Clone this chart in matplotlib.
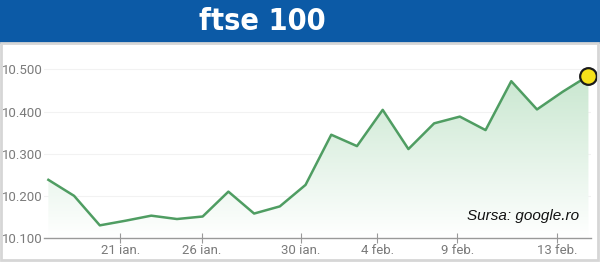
import numpy as np
import matplotlib.pyplot as plt
from matplotlib.patches import Rectangle
from matplotlib.colors import LinearSegmentedColormap

# valori ftse 100
valori = [10238, 10200, 10130, 10141, 10153, 10145, 10151, 10210, 10158, 10175,
          10226, 10345, 10318, 10404, 10311, 10372, 10388, 10356, 10472, 10405,
          10447, 10485]
etichete_x = ['21 ian.', '26 ian.', '30 ian.', '4 feb.', '9 feb.', '13 feb.']
pozitii_x = [2.8, 5.98, 9.83, 12.79, 15.9, 19.77]
etichete_y = ['10.100', '10.200', '10.300', '10.400', '10.500']
niveluri_y = [10100, 10200, 10300, 10400, 10500]
titlu = 'ftse 100'
sursa = 'Sursa: google.ro'

x = np.arange(len(valori))
y = np.array(valori)

fig = plt.figure(figsize=(6, 2.62), dpi=100)
fig.patch.set_facecolor('white')

# banda albastra cu titlul
fig.patches.append(Rectangle((0, 1 - 44 / 262), 1, 44 / 262, transform=fig.transFigure,
                             facecolor='#0c5aa6', edgecolor='none', zorder=0))
fig.text(0.438, 1 - 21 / 262, titlu, color='white', fontsize=22, fontweight='bold',
         fontstretch='condensed', family='DejaVu Sans', ha='center', va='center')

# chenar gri
fig.patches.append(Rectangle((0.002, 0.006), 0.994, 0.83, transform=fig.transFigure,
                             facecolor='none', edgecolor='#d6d6d6', linewidth=2, zorder=0))

ax = fig.add_axes([44 / 600, 1 - 238 / 262, (591 - 44) / 600, (238 - 50) / 262])
ax.set_xlim(-0.17, 21.1)
ax.set_ylim(10100, 10546)

# gradient verde sub linie
grad = np.linspace(0, 1, 256).reshape(-1, 1)
cmap = LinearSegmentedColormap.from_list('g', ['#ffffff', '#c9e7d0'])
img = ax.imshow(grad, cmap=cmap, aspect='auto',
                extent=[x[0], x[-1], 10100, y.max()], origin='lower', zorder=1)
poly = ax.fill_between(x, y, 10100, facecolor='none', edgecolor='none')
img.set_clip_path(poly.get_paths()[0], transform=ax.transData)

ax.plot(x, y, color='#4f9d62', linewidth=1.8, zorder=3)
ax.plot(x[-1], y[-1], 'o', markersize=12, markerfacecolor='#f7e21a',
        markeredgecolor='#1a1a1a', markeredgewidth=1.6, zorder=4, clip_on=False)

for n in niveluri_y[1:]:
    ax.axhline(n, color='#f2f2f2', linewidth=0.8, zorder=0)

ax.set_yticks(niveluri_y)
ax.set_yticklabels(etichete_y)
ax.set_xticks(pozitii_x)
ax.set_xticklabels(etichete_x)
ax.tick_params(axis='y', length=0, pad=1, labelsize=9.5, labelcolor='#7a7a7a')
ax.tick_params(axis='x', direction='inout', length=7, width=0.8, color='#999999',
               pad=1, labelsize=9.5, labelcolor='#7a7a7a')
for t in ax.get_xticklabels() + ax.get_yticklabels():
    t.set_family(['Roboto', 'DejaVu Sans'])

for s in ['top', 'right', 'left']:
    ax.spines[s].set_visible(False)
ax.spines['bottom'].set_color('#999999')
ax.spines['bottom'].set_linewidth(1)
ax.set_facecolor('none')

fig.text(579 / 600, 1 - 216 / 262, sursa, fontsize=11, style='italic', color='#111111',
         family=['Liberation Sans', 'DejaVu Sans'], ha='right', va='center')

plt.savefig('out.png', dpi=100)
